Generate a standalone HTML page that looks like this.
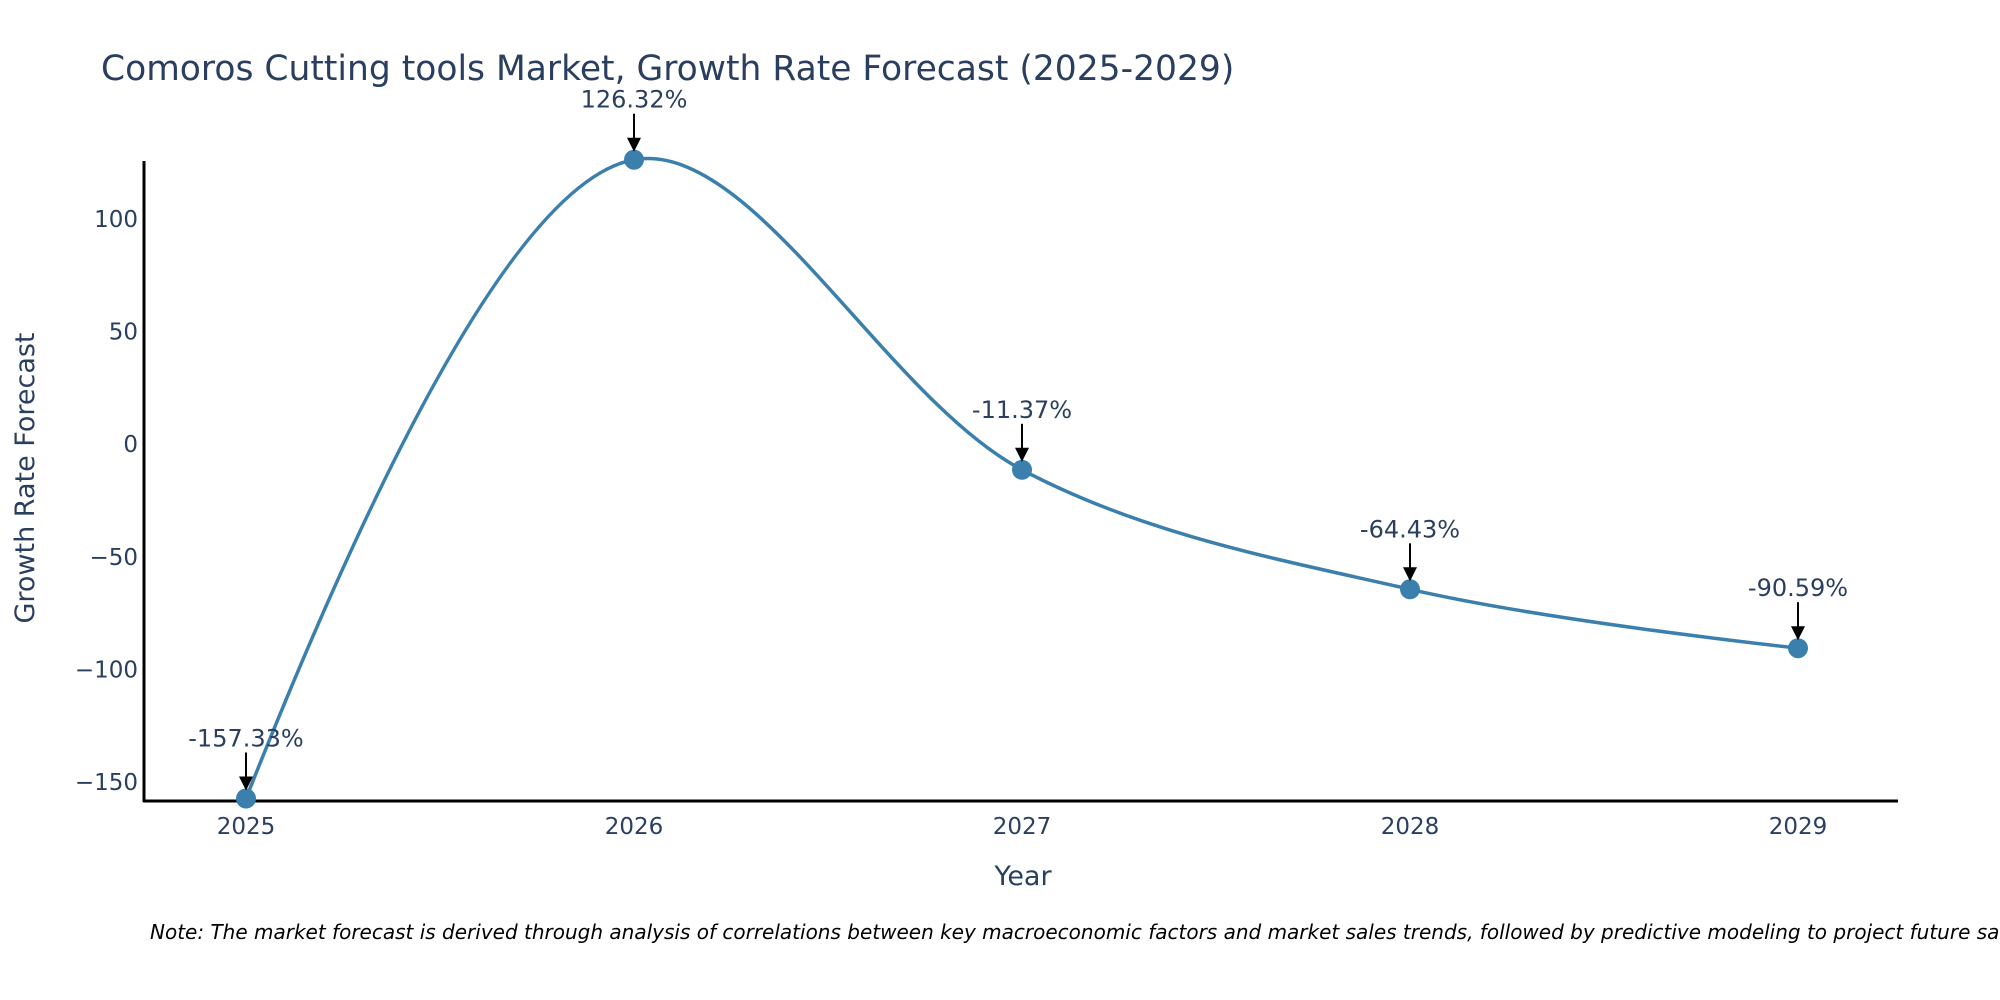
<!DOCTYPE html>
<html><head><meta charset="utf-8"><style>
html,body{margin:0;padding:0;background:#fff;}
svg{display:block;font-family:"DejaVu Sans","Liberation Sans",sans-serif;}
</style></head><body>
<svg id="chart" width="2000" height="1000">
<text x="101" y="80" font-size="34.5" fill="#2a3f5f">Comoros Cutting tools Market, Growth Rate Forecast (2025-2029)</text>
<g id="yticks"></g>
<g id="xticks"></g>
<line x1="144" y1="161" x2="144" y2="802" stroke="#000" stroke-width="3"/>
<line x1="143" y1="801" x2="1898" y2="801" stroke="#000" stroke-width="3"/>
<path id="line" fill="none" stroke="#3b7fad" stroke-width="3.5"/>
<g id="marks"></g>
<text x="1023" y="885" font-size="27" fill="#2a3f5f" text-anchor="middle">Year</text>
<text transform="translate(34,478) rotate(-90)" font-size="27" fill="#2a3f5f" text-anchor="middle">Growth Rate Forecast</text>
<text x="150" y="939" font-size="20" font-style="italic" fill="#000">Note: The market forecast is derived through analysis of correlations between key macroeconomic factors and market sales trends, followed by predictive modeling to project future sales.</text>
</svg>
<script>
const years = [2025, 2026, 2027, 2028, 2029];
const values = [-157.33, 126.32, -11.37, -64.43, -90.59];
const labels = ["-157.33%", "126.32%", "-11.37%", "-64.43%", "-90.59%"];
const yTicks = [-150, -100, -50, 0, 50, 100];
const NS = "http://www.w3.org/2000/svg";
const xs = y => 246 + (y - 2025) * 388;
const ys = v => 219 + (100 - v) * 2.252;
function mk(tag, attrs, parent){const e=document.createElementNS(NS,tag);for(const k in attrs)e.setAttribute(k,attrs[k]);parent.appendChild(e);return e;}
const yg=document.getElementById('yticks');
yTicks.forEach(t=>{
  const e=mk('text',{x:138,y:ys(t)+8,'font-size':23,fill:'#2a3f5f','text-anchor':'end'},yg);
  e.textContent=(t<0?'\u2212'+Math.abs(t):t);
  
  
});
const xg=document.getElementById('xticks');
years.forEach(y=>{
  const e=mk('text',{x:xs(y),y:834,'font-size':23,fill:'#2a3f5f','text-anchor':'middle'},xg);
  e.textContent=y;
  
  
});
const P=years.map((y,i)=>[xs(y),ys(values[i])]);
function tangent(a,b,c,s){
  const d1x=a[0]-b[0],d1y=a[1]-b[1],d2x=c[0]-b[0],d2y=c[1]-b[1];
  const d1a=Math.pow(d1x*d1x+d1y*d1y,0.25),d2a=Math.pow(d2x*d2x+d2y*d2y,0.25);
  const nx=(d2a*d2a*d1x-d1a*d1a*d2x)*s,ny=(d2a*d2a*d1y-d1a*d1a*d2y)*s;
  const den1=3*d2a*(d1a+d2a),den2=3*d1a*(d1a+d2a);
  return [[b[0]+nx/den1,b[1]+ny/den1],[b[0]-nx/den2,b[1]-ny/den2]];
}
const T=[];
for(let i=1;i<P.length-1;i++)T.push(tangent(P[i-1],P[i],P[i+1],1));
let d=`M${P[0]} Q${T[0][0]} ${P[1]}`;
for(let i=1;i<P.length-2;i++)d+=` C${T[i-1][1]} ${T[i][0]} ${P[i+1]}`;
d+=` Q${T[T.length-1][1]} ${P[P.length-1]}`;
document.getElementById('line').setAttribute('d',d);
const mg=document.getElementById('marks');
P.forEach((p,i)=>{
  const c=mk('circle',{cx:p[0],cy:p[1],r:10,fill:'#3b7fad'},mg);
  
  
  const l=mk('line',{x1:p[0],y1:p[1]-46,x2:p[0],y2:p[1]-20,stroke:'#000','stroke-width':2},mg);
  
  
  const h=mk('polygon',{points:`${p[0]-7},${p[1]-22} ${p[0]+7},${p[1]-22} ${p[0]},${p[1]-8}`,fill:'#000'},mg);
  
  
  const t=mk('text',{x:p[0],y:p[1]-52,'font-size':24,fill:'#2a3f5f','text-anchor':'middle'},mg);
  t.textContent=labels[i];
  
  
});
</script>
</body></html>
